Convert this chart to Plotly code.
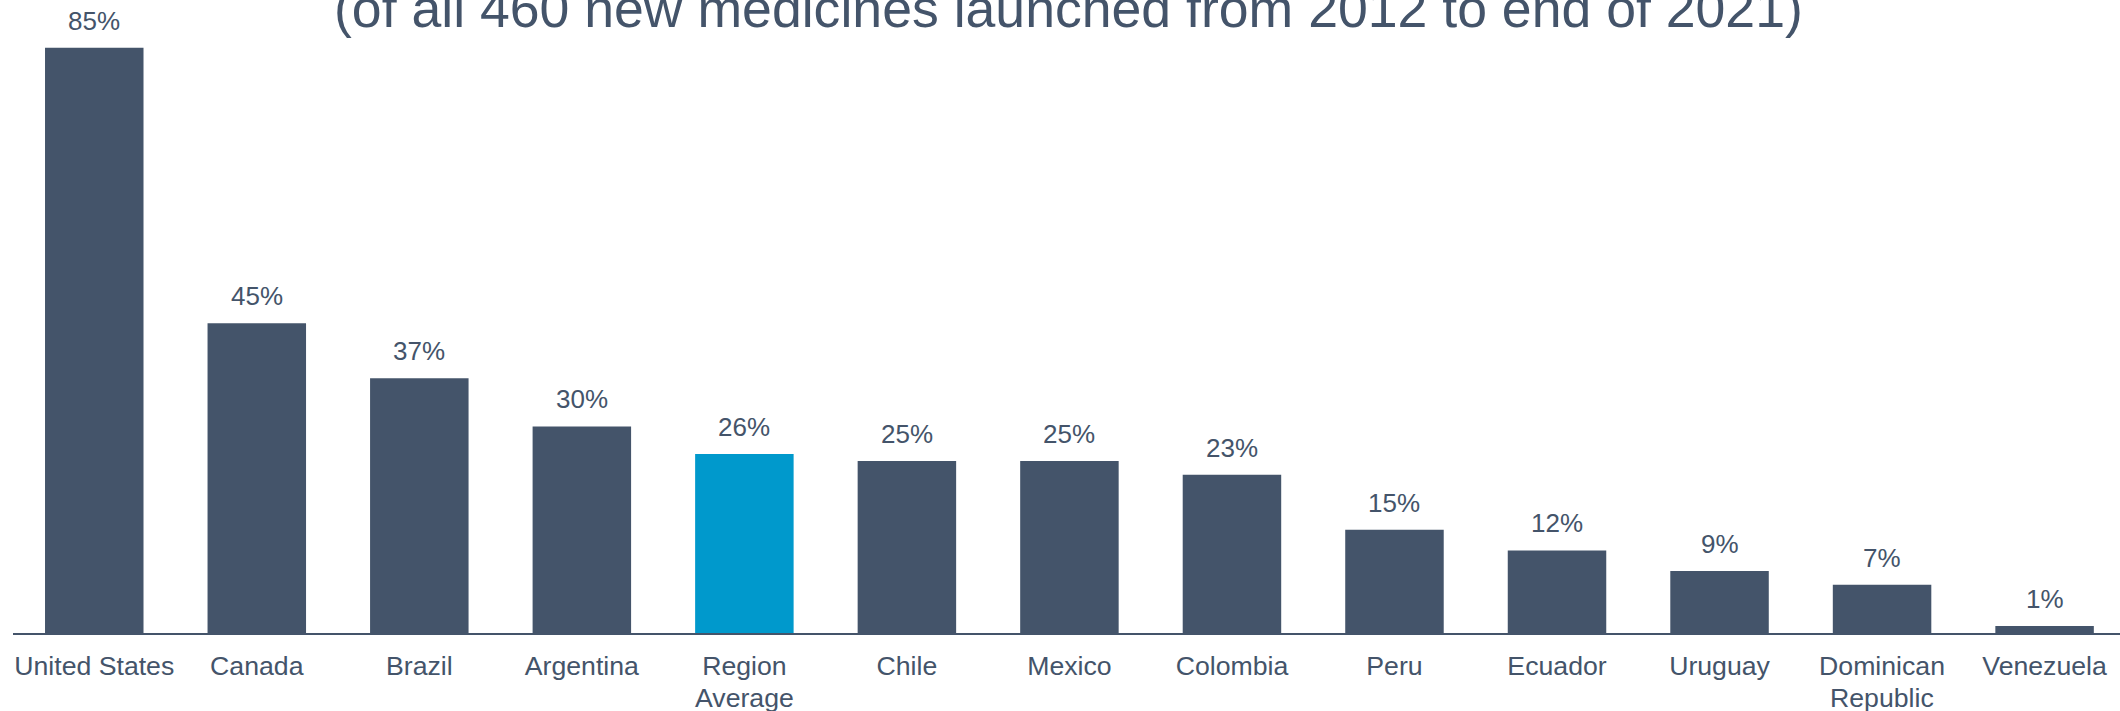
import plotly.graph_objects as go

categories = ["United States", "Canada", "Brazil", "Argentina", "Region Average",
              "Chile", "Mexico", "Colombia", "Peru", "Ecuador", "Uruguay",
              "Dominican Republic", "Venezuela"]
tick_line1 = ["United States", "Canada", "Brazil", "Argentina", "Region",
              "Chile", "Mexico", "Colombia", "Peru", "Ecuador", "Uruguay",
              "Dominican", "Venezuela"]
tick_line2 = ["", "", "", "", "Average", "", "", "", "", "", "", "Republic", ""]
values = [85, 45, 37, 30, 26, 25, 25, 23, 15, 12, 9, 7, 1]
value_labels = ["85%", "45%", "37%", "30%", "26%", "25%", "25%", "23%",
                "15%", "12%", "9%", "7%", "1%"]
title_line = "(of all 460 new medicines launched from 2012 to end of 2021)"

DARK = "#44546A"
HIGHLIGHT = "#0099CC"
FONT = "Liberation Sans, Arial, sans-serif"

colors = [HIGHLIGHT if c == "Region Average" else DARK for c in categories]

fig = go.Figure()
fig.add_trace(go.Bar(
    x=categories, y=values, marker=dict(color=colors, line=dict(width=0)),
    width=0.606, hoverinfo="skip",
))

for c, v, t in zip(categories, values, value_labels):
    fig.add_annotation(x=c, y=v, xref="x", yref="y", text=t, showarrow=False,
                       yanchor="middle", yshift=27,
                       font=dict(family=FONT, size=26, color=DARK))

# second line of wrapped category labels (tighter line spacing than Plotly's default)
for c, t in zip(categories, tick_line2):
    if t:
        fig.add_annotation(x=c, y=0, xref="x", yref="paper", text=t, showarrow=False,
                           yanchor="middle", yshift=-65, borderpad=0,
                           font=dict(family=FONT, size=26.67, color=DARK))

fig.add_annotation(x=(1068 - 13) / 2107, xref="x domain", y=1, yref="paper",
                   text=title_line, showarrow=False, xanchor="center",
                   yanchor="middle", yshift=-8,
                   font=dict(family=FONT, size=53.6, color=DARK))

fig.update_layout(
    width=2120, height=711, autosize=False,
    margin=dict(l=13, r=0, t=0, b=77.5, pad=0, autoexpand=False),
    paper_bgcolor="white", plot_bgcolor="white",
    showlegend=False,
    font=dict(family=FONT, size=26.67, color=DARK),
    xaxis=dict(range=[-0.5, 12.464], tickmode="array", tickvals=categories,
               ticktext=tick_line1, showline=True, linecolor=DARK, linewidth=2,
               showgrid=False, zeroline=False, ticks="", ticklabelstandoff=8,
               automargin=False,
               tickfont=dict(family=FONT, size=26.67, color=DARK)),
    yaxis=dict(range=[0, 91.94], visible=False, showgrid=False, zeroline=False,
               automargin=False),
)

fig.write_html("out.html", config={"displayModeBar": False, "staticPlot": True},
               post_script="document.body.style.margin='0';document.body.style.overflow='hidden';")
